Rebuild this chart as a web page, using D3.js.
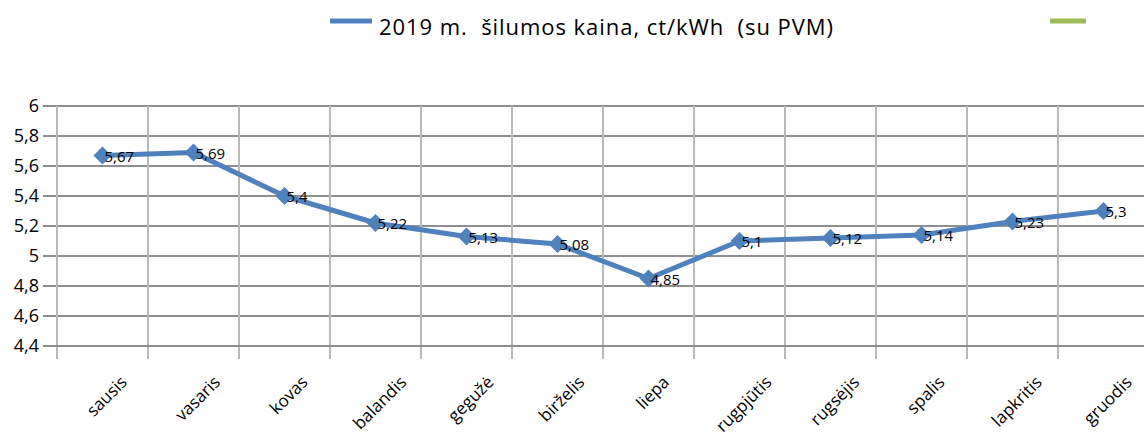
<!DOCTYPE html>
<html>
<head>
<meta charset="utf-8">
<script src="https://d3js.org/d3.v7.min.js"></script>
<style>
  body { margin: 0; background: #fff; }
  text { font-family: "Open Sans", sans-serif; fill: #000; }
</style>
</head>
<body>
<svg id="chart" width="1144" height="437"></svg>
<script>
// data
var months = ["sausis", "vasaris", "kovas", "balandis", "gegužė", "birželis",
              "liepa", "rugpjūtis", "rugsėjis", "spalis", "lapkritis", "gruodis"];
var prices = [5.67, 5.69, 5.4, 5.22, 5.13, 5.08, 4.85, 5.1, 5.12, 5.14, 5.23, 5.3];
var yTicks = [4.4, 4.6, 4.8, 5, 5.2, 5.4, 5.6, 5.8, 6];
var seriesName = "2019 m.  šilumos kaina, ct/kWh  (su PVM)";

var svg = d3.select("#chart");
var fmt = function (v) { return String(v).replace(".", ","); };

// scales
var x = d3.scaleBand().domain(months).range([57, 1149]).padding(0);
var y = d3.scaleLinear().domain([4.4, 6]).range([346, 106]);

// horizontal grid + left ticks
svg.append("g").selectAll("line")
  .data(yTicks)
  .enter().append("line")
    .attr("x1", 43).attr("x2", 1144)
    .attr("y1", function (d) { return y(d); })
    .attr("y2", function (d) { return y(d); })
    .attr("stroke", "#8e8e8e")
    .attr("stroke-width", 2);

// vertical grid at category boundaries (extends below axis as tick)
var bounds = months.map(function (m) { return x(m); });
svg.append("g").selectAll("line")
  .data(bounds)
  .enter().append("line")
    .attr("x1", function (d) { return d; })
    .attr("x2", function (d) { return d; })
    .attr("y1", 106).attr("y2", 359)
    .attr("stroke", "#b9b9b9")
    .attr("stroke-width", 2);

// redraw x axis line on top
svg.append("line")
  .attr("x1", 43).attr("x2", 1144)
  .attr("y1", y(4.4)).attr("y2", y(4.4))
  .attr("stroke", "#8e8e8e").attr("stroke-width", 2);

// y labels
svg.append("g").selectAll("text")
  .data(yTicks)
  .enter().append("text")
    .attr("x", 39)
    .attr("y", function (d) { return y(d); })
    .attr("dy", "0.36em")
    .attr("text-anchor", "end")
    .style("font-size", "18px")
    .text(fmt);

// x labels, rotated
svg.append("g").selectAll("text")
  .data(months)
  .enter().append("text")
    .attr("text-anchor", "end")
    .attr("dy", "0.36em")
    .style("font-size", "17px")
    .text(function (d) { return d; })
    .attr("transform", function (d) {
      var len = this.getComputedTextLength();
      var cx = x(d) + x.bandwidth() / 2 + 4 + len * 0.354;
      return "translate(" + cx + ",379) rotate(-45)";
    });

// line
var line = d3.line()
  .x(function (d, i) { return x(months[i]) + x.bandwidth() / 2; })
  .y(function (d) { return y(d); });

svg.append("path")
  .datum(prices)
  .attr("d", line)
  .attr("fill", "none")
  .attr("stroke", "#4f81bd")
  .attr("stroke-width", 5)
  .attr("stroke-linejoin", "round");

// diamond markers
svg.append("g").selectAll("path")
  .data(prices)
  .enter().append("path")
    .attr("d", "M0,-9L9,0L0,9L-9,0Z")
    .attr("fill", "#4f81bd")
    .attr("transform", function (d, i) {
      return "translate(" + (x(months[i]) + x.bandwidth() / 2) + "," + y(d) + ")";
    });

// data labels
svg.append("g").selectAll("text")
  .data(prices)
  .enter().append("text")
    .attr("x", function (d, i) { return x(months[i]) + x.bandwidth() / 2 + 2; })
    .attr("y", function (d) { return y(d) + 1; })
    .attr("dy", "0.36em")
    .style("font-size", "15px")
    .text(fmt);

// legend
svg.append("line")
  .attr("x1", 330).attr("x2", 372).attr("y1", 21).attr("y2", 21)
  .attr("stroke", "#4f81bd").attr("stroke-width", 5);
svg.append("text")
  .attr("x", 379).attr("y", 27).attr("dy", "0.36em")
  .attr("textLength", 454)
  .attr("lengthAdjust", "spacing")
  .style("font-size", "22px")
  .style("white-space", "pre")
  .text(seriesName);
svg.append("line")
  .attr("x1", 1050).attr("x2", 1086).attr("y1", 21).attr("y2", 21)
  .attr("stroke", "#9bbb59").attr("stroke-width", 5);
</script>
</body>
</html>
